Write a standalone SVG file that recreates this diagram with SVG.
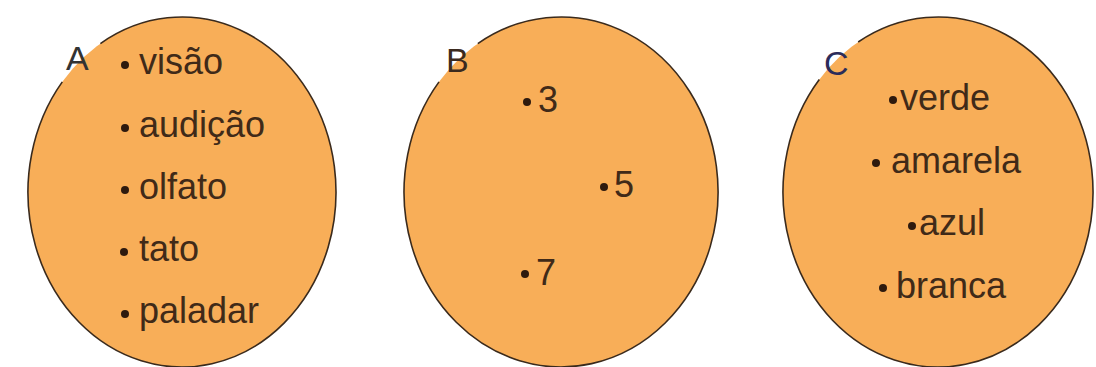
<svg xmlns="http://www.w3.org/2000/svg" width="1096" height="367" viewBox="0 0 1096 367">
<style>
.fill{fill:#F8AE58;stroke:none}
.edge{fill:none;stroke:#3a2a1c;stroke-width:1.6}
.item{font-family:"Liberation Sans",Arial,sans-serif;font-size:36px;fill:#402a18}
.lbl{font-family:"Liberation Sans",Arial,sans-serif;font-size:34px}
.dot{fill:#2e1a0e}
</style>
<rect width="1096" height="367" fill="#ffffff"/>
<g id="setA">
<ellipse class="fill" cx="182" cy="192" rx="154" ry="175"/>
<path class="edge" d="M 62.3 81.9 A 154 175 0 1 0 100.4 43.6"/>
<text class="lbl" x="66" y="70" fill="#333333">A</text>
<circle class="dot" cx="125" cy="65" r="4"/><text class="item" x="139" y="74">visão</text>
<circle class="dot" cx="125" cy="128" r="4"/><text class="item" x="139" y="137">audição</text>
<circle class="dot" cx="125" cy="190" r="4"/><text class="item" x="139" y="199">olfato</text>
<circle class="dot" cx="124" cy="252" r="4"/><text class="item" x="139" y="261">tato</text>
<circle class="dot" cx="125" cy="314" r="4"/><text class="item" x="139" y="323">paladar</text>
</g>
<g id="setB">
<ellipse class="fill" cx="561" cy="192" rx="157" ry="175"/>
<path class="edge" d="M 439.0 81.9 A 157 175 0 1 0 477.8 43.6"/>
<text class="lbl" x="446" y="72" fill="#3b2a1e">B</text>
<circle class="dot" cx="527" cy="102" r="4"/><text class="item" x="538" y="112">3</text>
<circle class="dot" cx="604" cy="187" r="4"/><text class="item" x="614" y="197">5</text>
<circle class="dot" cx="525" cy="274" r="4"/><text class="item" x="536" y="285">7</text>
</g>
<g id="setC">
<ellipse class="fill" cx="938" cy="192" rx="155" ry="175"/>
<path class="edge" d="M 819.3 79.5 A 155 175 0 1 0 858.2 42.0"/>
<text class="lbl" x="824" y="75" fill="#2c2c5a">C</text>
<circle class="dot" cx="893" cy="100" r="4"/><text class="item" x="900" y="110">verde</text>
<circle class="dot" cx="876" cy="163" r="4"/><text class="item" x="891" y="173">amarela</text>
<circle class="dot" cx="912" cy="226" r="4"/><text class="item" x="919" y="235">azul</text>
<circle class="dot" cx="883" cy="288" r="4"/><text class="item" x="896" y="298">branca</text>
</g>
<g id="connectors"></g>
</svg>
